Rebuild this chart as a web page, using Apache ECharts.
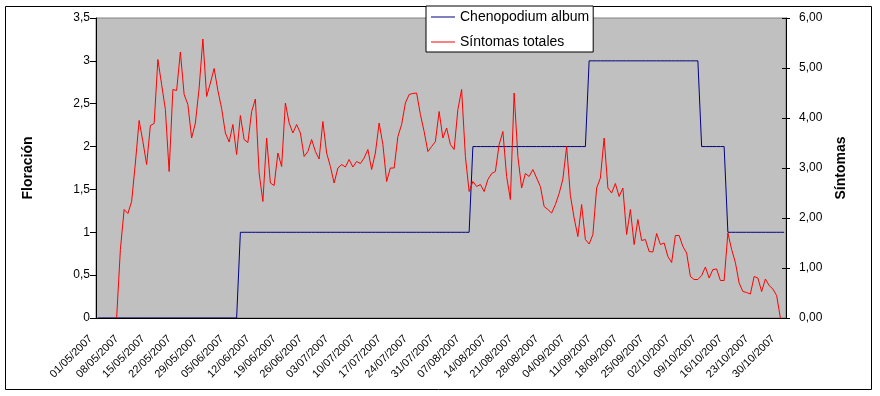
<!DOCTYPE html>
<html>
<head>
<meta charset="utf-8">
<script src="https://cdn.jsdelivr.net/npm/echarts@6/dist/echarts.min.js"></script>
<style>
html,body{margin:0;padding:0;background:#fff;}
#chart{width:880px;height:396px;}
</style>
</head>
<body>
<div id="chart"></div>
<script>
// ---- Data (one value per day, 01/05/2007 - 31/10/2007) ----
const startDay = { year: 2007, month: 5, day: 1 };
const monthLengths = [31, 30, 31, 31, 30, 31]; // May..Oct

// Floración – Chenopodium album (left axis)
const floracionMay = [0,0,0,0,0,0,0,0,0,0,0,0,0,0,0,0,0,0,0,0,0,0,0,0,0,0,0,0,0,0,0];
const floracionJun = [0,0,0,0,0,0,0,1,1,1,1,1,1,1,1,1,1,1,1,1,1,1,1,1,1,1,1,1,1,1];
const floracionJul = [1,1,1,1,1,1,1,1,1,1,1,1,1,1,1,1,1,1,1,1,1,1,1,1,1,1,1,1,1,1,1];
const floracionAug = [1,1,1,1,1,1,1,1,2,2,2,2,2,2,2,2,2,2,2,2,2,2,2,2,2,2,2,2,2,2,2];
const floracionSep = [2,2,2,2,2,2,2,2,3,3,3,3,3,3,3,3,3,3,3,3,3,3,3,3,3,3,3,3,3,3];
const floracionOct = [3,3,3,3,3,3,3,3,2,2,2,2,2,2,2,1,1,1,1,1,1,1,1,1,1,1,1,1,1,1,1];

// Síntomas totales (right axis)
const sintomasMay = [null,null,null,null,null,0,1.37,2.17,2.09,2.33,3.1,3.95,3.53,3.07,3.85,3.89,5.17,4.67,4.17,2.93,4.57,4.55,5.32,4.47,4.27,3.6,3.9,4.6,5.58,4.43,4.7];
const sintomasJun = [4.99,4.55,4.19,3.7,3.52,3.87,3.27,4.05,3.57,3.51,4.13,4.38,2.9,2.33,3.6,2.7,2.65,3.3,3.03,4.3,3.9,3.7,3.87,3.7,3.23,3.33,3.57,3.33,3.18,3.93];
const sintomasJul = [3.3,3.03,2.7,3.0,3.07,3.02,3.17,3.02,3.13,3.09,3.2,3.37,2.97,3.3,3.9,3.47,2.73,3.0,3.0,3.63,3.87,4.3,4.47,4.49,4.5,4.07,3.73,3.33,3.43,3.53,4.13];
const sintomasAug = [3.6,3.8,3.47,3.37,4.17,4.57,3.23,2.53,2.73,2.63,2.67,2.53,2.77,2.89,2.93,3.47,3.73,2.83,2.37,4.5,3.23,2.6,2.89,2.83,2.97,2.8,2.63,2.23,2.17,2.1,2.27];
const sintomasSep = [2.49,2.78,3.43,2.45,2.0,1.63,2.27,1.57,1.48,1.67,2.6,2.8,3.6,2.6,2.5,2.69,2.43,2.6,1.67,2.17,1.47,1.97,1.55,1.57,1.33,1.32,1.69,1.47,1.5,1.23];
const sintomasOct = [1.11,1.65,1.65,1.43,1.3,0.83,0.77,0.77,0.85,1.02,0.8,0.97,0.98,0.75,0.75,1.7,1.37,1.11,0.7,0.53,0.51,0.48,0.83,0.8,0.53,0.78,0.65,0.58,0.45,0,null];

const seriesNames = ['Chenopodium album', 'Síntomas totales'];
const leftTicks = { min: 0, max: 3.5, step: 0.5 };
const rightTicks = { min: 0, max: 6, step: 1 };

// ---- Build categories (dd/mm/yyyy) ----
const categories = [];
monthLengths.forEach(function (len, m) {
  for (let d = 1; d <= len; d++) {
    const mm = startDay.month + m;
    categories.push((d < 10 ? '0' : '') + d + '/' + (mm < 10 ? '0' : '') + mm + '/' + startDay.year);
  }
});
const floracion = [].concat(floracionMay, floracionJun, floracionJul, floracionAug, floracionSep, floracionOct);
const sintomas = [].concat(sintomasMay, sintomasJun, sintomasJul, sintomasAug, sintomasSep, sintomasOct);

const FONT = 'Arial, "Liberation Sans", sans-serif';
const chart = echarts.init(document.getElementById('chart'), null, { renderer: 'canvas' });

chart.setOption({
  animation: false,
  backgroundColor: '#ffffff',
  textStyle: { fontFamily: FONT, color: '#000' },
  graphic: [{
    type: 'rect', silent: true, z: 0,
    shape: { x: 5.5, y: 6.5, width: 866, height: 383 },
    style: { fill: 'none', stroke: '#000', lineWidth: 1 }
  }],
  grid: {
    left: 96, top: 18, width: 690, height: 300,
    show: true, backgroundColor: '#C0C0C0', borderColor: '#808080', borderWidth: 1
  },
  legend: {
    data: seriesNames,
    orient: 'vertical',
    left: 426, top: 6,
    padding: [3, 4, 2, 5],
    itemGap: 9,
    itemWidth: 24, itemHeight: 1,
    icon: 'rect',
    backgroundColor: '#fff', borderColor: '#000', borderWidth: 1, borderRadius: 0,
    textStyle: { fontSize: 14, fontFamily: FONT, color: '#000', lineHeight: 16 }
  },
  xAxis: {
    type: 'category', data: categories, boundaryGap: true, z: 5,
    axisLine: { lineStyle: { color: '#000', width: 1 } },
    axisTick: { interval: 6, length: 4, lineStyle: { color: '#000' } },
    axisLabel: { interval: 6, rotate: 45, fontSize: 11, fontFamily: FONT, color: '#000',
      margin: 12, padding: [0, 10, 0, 0] },
    splitLine: { show: false }
  },
  yAxis: [{
    type: 'value', position: 'left', z: 5,
    min: leftTicks.min, max: leftTicks.max, interval: leftTicks.step,
    name: 'Floración', nameLocation: 'middle', nameRotate: 90, nameGap: 61,
    nameTextStyle: { fontSize: 14, fontWeight: 'bold', fontFamily: FONT, color: '#000' },
    axisLine: { show: true, lineStyle: { color: '#000' } },
    axisTick: { show: true, length: 6, lineStyle: { color: '#000' } },
    axisLabel: { fontSize: 12, fontFamily: FONT, color: '#000', margin: 6,
      formatter: function (v) { return String(v).replace('.', ','); } },
    splitLine: { show: false }
  }, {
    type: 'value', position: 'right', z: 5,
    min: rightTicks.min, max: rightTicks.max, interval: rightTicks.step,
    name: 'Síntomas', nameLocation: 'middle', nameRotate: 90, nameGap: 48,
    nameTextStyle: { fontSize: 14, fontWeight: 'bold', fontFamily: FONT, color: '#000' },
    axisLine: { show: true, lineStyle: { color: '#000' } },
    axisTick: { show: true, length: 4, lineStyle: { color: '#000' } },
    axisLabel: { fontSize: 12, fontFamily: FONT, color: '#000', margin: 13,
      formatter: function (v) { return v.toFixed(2).replace('.', ','); } },
    splitLine: { show: false }
  }, {
    type: 'value', position: 'right', z: 5,
    min: rightTicks.min, max: rightTicks.max, interval: rightTicks.step,
    axisLine: { show: false },
    axisTick: { show: true, inside: true, length: 4, lineStyle: { color: '#000' } },
    axisLabel: { show: false },
    splitLine: { show: false }
  }],
  series: [{
    name: seriesNames[0], type: 'line', yAxisIndex: 0, data: floracion, z: 2,
    symbol: 'none', lineStyle: { color: '#000080', width: 1 }, itemStyle: { color: '#000080' }
  }, {
    name: seriesNames[1], type: 'line', yAxisIndex: 1, data: sintomas, z: 3,
    symbol: 'none', connectNulls: false,
    lineStyle: { color: '#FF0000', width: 1 }, itemStyle: { color: '#FF0000' }
  }]
});
</script>
</body>
</html>
